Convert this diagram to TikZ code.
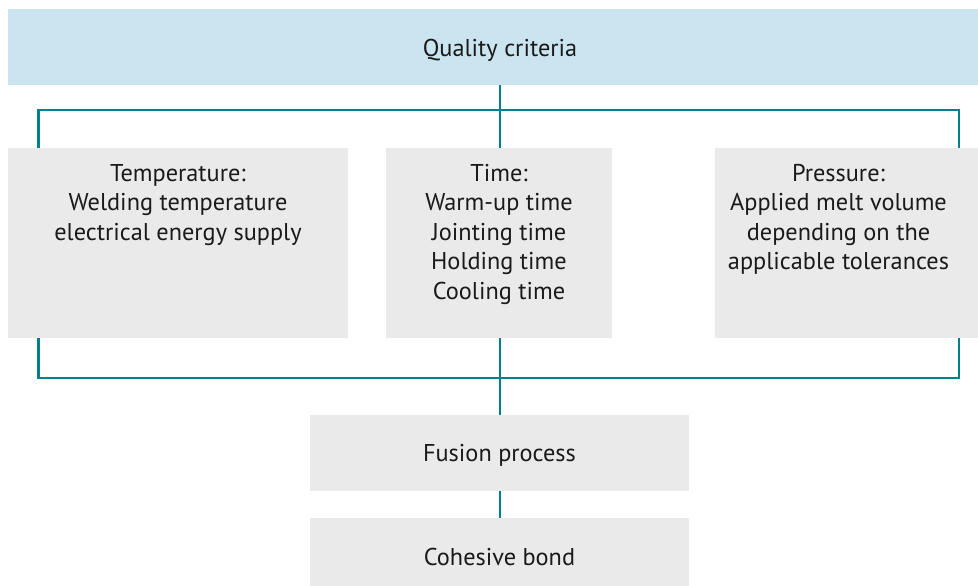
\documentclass[tikz,border=0pt]{standalone}
\usepackage{fontspec}
\setmainfont{PT Sans}
\definecolor{hdrblue}{HTML}{CAE5F0}
\definecolor{boxgray}{HTML}{EAEAEA}
\definecolor{teal}{HTML}{00808A}
\definecolor{ink}{HTML}{1A1A1A}
\begin{document}
\begin{tikzpicture}[x=1pt,y=-1pt,
  gbox/.style={fill=boxgray, draw=none, inner sep=0pt, outer sep=0pt},
  bbox/.style={fill=hdrblue, draw=none, inner sep=0pt, outer sep=0pt},
  txt/.style={inner sep=0pt, outer sep=0pt, align=center, text=ink,
    font=\fontsize{24.3}{29.6}\selectfont},
  conn/.style={draw=teal, line width=2.5pt}]
\useasboundingbox (0,0) rectangle (978,586);
\clip (0,0) rectangle (978,586);
% boxes
\node[bbox, minimum width=984, minimum height=76] (top) at (500,47) {};
\node[gbox, anchor=north west, minimum width=340, minimum height=190] (temp) at (8,148) {};
\node[gbox, anchor=north west, minimum width=226, minimum height=190] (time) at (386,148) {};
\node[gbox, anchor=north west, minimum width=275, minimum height=190] (pres) at (715,148) {};
\node[gbox, anchor=north west, minimum width=379, minimum height=76] (fusion) at (310,415) {};
\node[gbox, anchor=north west, minimum width=379, minimum height=76] (bond) at (310,518) {};
% texts
\node[txt, anchor=base] (topT) at (500,56.5) {Quality criteria};
\node[txt, anchor=north] (tempT) at (178,161) {\rule{0pt}{20pt}Temperature:\\Welding temperature\\electrical energy supply};
\node[txt, anchor=north] (timeT) at (499,161) {\rule{0pt}{20pt}Time:\\Warm-up time\\Jointing time\\Holding time\\Cooling time};
\node[txt, anchor=north] (presT) at (838.5,161) {\rule{0pt}{20pt}Pressure:\\Applied melt volume\\depending on the\\applicable tolerances};
\node[txt, anchor=base] (fusionT) at (499.5,461.5) {Fusion process};
\node[txt, anchor=base] (bondT) at (499.5,565) {Cohesive bond};
% connectors
\coordinate (jt) at (500,110);
\coordinate (cl) at (38.5,110);
\coordinate (cr) at (959,110);
\coordinate (jb) at (500,378);
\coordinate (bl) at (38.5,378);
\coordinate (br) at (959,378);
\draw[conn] (top.south -| jt) -- (jt);
\draw[conn] (temp.north -| cl) -- (cl) -- (cr) -- (pres.north -| cr);
\draw[conn] (jt) -- (time.north -| jt);
\draw[conn] (temp.south -| bl) -- (bl) -- (br) -- (pres.south -| br);
\draw[conn] (time.south -| jb) -- (fusion.north -| jb);
\draw[conn] (fusion.south -| jb) -- (bond.north -| jb);
\end{tikzpicture}
\end{document}
